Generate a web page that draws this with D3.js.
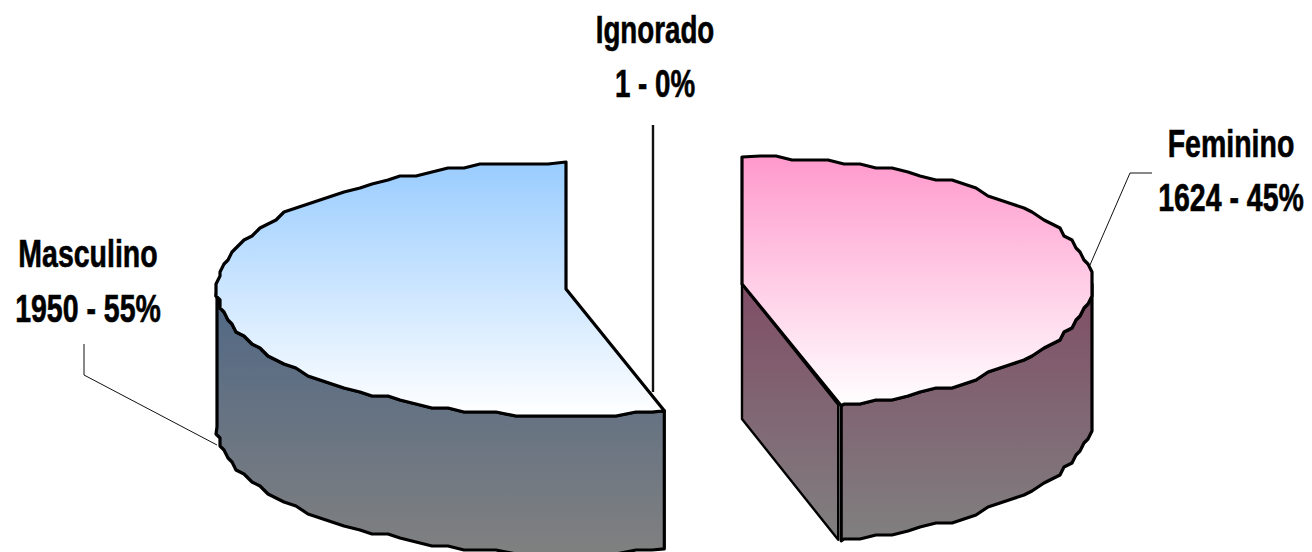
<!DOCTYPE html>
<html>
<head>
<meta charset="utf-8">
<script src="https://cdn.jsdelivr.net/npm/d3@7"></script>
<style>
    html, body { margin: 0; padding: 0; background: #fff; }
    svg { display: block; }
    text { font-family: "Liberation Sans", Arial, sans-serif; font-weight: bold; font-size: 38px; fill: #000; stroke: #000; stroke-width: 0.6px; }
</style>
</head>
<body>
<div id="chart"></div>
<script>
// Data
const categories = ["Feminino", "Ignorado", "Masculino"];
const counts = [1624, 1, 1950];
const percents = [45, 0, 55];

const width = 1312, height = 552;

// Each slice is pulled apart, so each one gets its own ellipse
const feminineShape = { cx: 742, cy: 284, rx: 350, ry: 127, depth: 135 };
const masculineShape = { cx: 566, cy: 289, rx: 349, ry: 127, depth: 138 };

const svg = d3.select("#chart")
    .append("svg")
    .attr("width", width)
    .attr("height", height);

// Vertical gradients
const defs = svg.append("defs");
function addGradient(id, from, to) {
    const g = defs.append("linearGradient")
        .attr("id", id)
        .attr("x1", 0).attr("y1", 0)
        .attr("x2", 0).attr("y2", 1);
    g.append("stop").attr("offset", "0%").attr("stop-color", from);
    g.append("stop").attr("offset", "100%").attr("stop-color", to);
}
addGradient("topMasc", "#99ccff", "#ffffff");
addGradient("topFem", "#ff99cc", "#ffffff");
addGradient("wallMasc", "#4f6785", "#808080");
addGradient("wallFem", "#804d66", "#808080");

// Angles come from the counts, starting at 12 o'clock and going clockwise
const slices = d3.pie().sort(null)(counts);
const femSlice = slices[0];
const mascSlice = slices[2];

const RIGHT = Math.PI / 2, LEFT = 3 * Math.PI / 2;

function project(shape) {
    const x = d3.scaleLinear().domain([-1, 1]).range([shape.cx - shape.rx, shape.cx + shape.rx]);
    const y = d3.scaleLinear().domain([-1, 1]).range([shape.cy - shape.ry, shape.cy + shape.ry]);
    return a => [x(Math.sin(a)), y(-Math.cos(a))];
}

// The original outline is wobbly: sample at fixed angles and snap to a small grid,
// so that the wall and the top share the same edge
const angleStep = Math.PI / 64;
const snap = 4;
function roughArc(shape, a0, a1) {
    const p = project(shape);
    const pts = [p(a0)];
    const first = Math.ceil(a0 / angleStep + 0.01);
    const last = Math.floor(a1 / angleStep - 0.01);
    for (let k = first; k <= last; k++) {
        const q = p(k * angleStep);
        pts.push([Math.round(q[0] / snap) * snap, Math.round(q[1] / snap) * snap]);
    }
    pts.push(p(a1));
    return pts;
}

const line = d3.line().curve(d3.curveLinear);
const closed = pts => line(pts) + "Z";
const down = (pts, depth) => pts.map(q => [q[0], q[1] + depth]);

function drawWall(shape, a0, a1, fill) {
    const arc = roughArc(shape, a0, a1);
    svg.append("path")
        .attr("d", closed(arc.concat(down(arc, shape.depth).reverse())))
        .attr("fill", `url(#${fill})`)
        .attr("stroke", "#000")
        .attr("stroke-width", 3.2)
        .attr("stroke-linejoin", "round");
}

function drawTop(shape, a0, a1, fill) {
    const arc = roughArc(shape, a0, a1);
    svg.append("path")
        .attr("d", closed([[shape.cx, shape.cy]].concat(arc)))
        .attr("fill", `url(#${fill})`)
        .attr("stroke", "#000")
        .attr("stroke-width", 3.2)
        .attr("stroke-linejoin", "round");
}

// ========== MASCULINO ========== //
drawWall(masculineShape, mascSlice.startAngle, LEFT, "wallMasc");
drawTop(masculineShape, mascSlice.startAngle, mascSlice.endAngle, "topMasc");

// ========== FEMININO ========== //
const femEdge = project(feminineShape)(femSlice.endAngle);
const femCut = [[feminineShape.cx, feminineShape.cy], [femEdge[0] - 3, femEdge[1] - 1]];
svg.append("path")
    .attr("d", closed(femCut.concat(down(femCut, feminineShape.depth).reverse())))
    .attr("fill", "url(#wallFem)")
    .attr("stroke", "#000")
    .attr("stroke-width", 2.4)
    .attr("stroke-linejoin", "round");
drawWall(feminineShape, RIGHT, femSlice.endAngle, "wallFem");
drawTop(feminineShape, femSlice.startAngle, femSlice.endAngle, "topFem");

// ========== LEADER LINES ========== //
const leaders = [
    { points: [[1152, 173], [1130, 173], [1090, 265]], w: 1 },
    { points: [[653, 125], [653, 392]], w: 2.4 },
    { points: [[84, 344], [84, 375], [217, 445]], w: 1 }
];
svg.selectAll("path.leader")
    .data(leaders)
    .enter()
    .append("path")
    .attr("class", "leader")
    .attr("d", d => line(d.points))
    .attr("fill", "none")
    .attr("stroke", "#111")
    .attr("stroke-width", d => d.w);

// ========== LABELS ========== //
// Two lines per label; the original type is squeezed horizontally
const labelPos = [
    { x: 1231, y1: 157, y2: 211, sx: 0.75 },
    { x: 655, y1: 43, y2: 97, sx: 0.73 },
    { x: 88, y1: 267, y2: 322, sx: 0.75 }
];
categories.forEach((name, i) => {
    const pos = labelPos[i];
    const lines = [[name, pos.y1], [`${counts[i]} - ${percents[i]}%`, pos.y2]];
    lines.forEach(([txt, y]) => {
        svg.append("text")
            .attr("text-anchor", "middle")
            .attr("transform", `translate(${pos.x},${y}) scale(${pos.sx},1)`)
            .text(txt);
    });
});
</script>
</body>
</html>
